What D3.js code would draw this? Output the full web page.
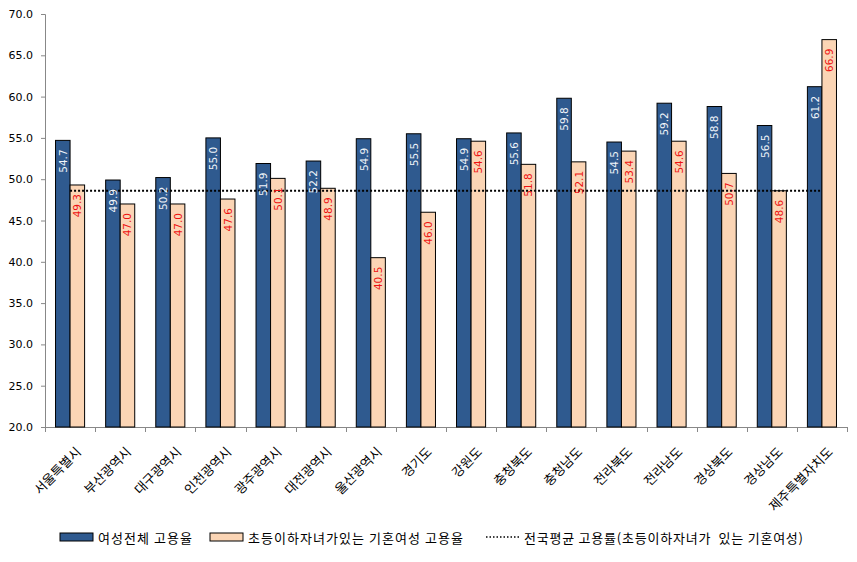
<!DOCTYPE html>
<html><head><meta charset="utf-8">
<script src="https://cdn.jsdelivr.net/npm/d3@7"></script>
<style>
body{margin:0;background:#fff;}
text{font-family:"DejaVu Sans",sans-serif;}
.kr{font-family:"Noto Sans CJK KR","Malgun Gothic",sans-serif;}
</style></head>
<body><svg id="c" width="857" height="562"></svg>
<script>
const categories = ["서울특별시","부산광역시","대구광역시","인천광역시","광주광역시","대전광역시","울산광역시","경기도","강원도","충청북도","충청남도","전라북도","전라남도","경상북도","경상남도","제주특별자치도"];
const totalRate = [54.7,49.9,50.2,55.0,51.9,52.2,54.9,55.5,54.9,55.6,59.8,54.5,59.2,58.8,56.5,61.2];
const marriedRate = [49.3,47.0,47.0,47.6,50.1,48.9,40.5,46.0,54.6,51.8,52.1,53.4,54.6,50.7,48.6,66.9];
const nationalAvg = 48.6;
const yTicks = [20,25,30,35,40,45,50,55,60,65,70];
const seriesNames = ["여성전체 고용율","초등이하자녀가있는 기혼여성 고용율","전국평균 고용률(초등이하자녀가  있는 기혼여성)"];

const svg = d3.select("#c");
const x0 = 45, x1 = 847, yTop = 14, yBot = 427;

const x = d3.scaleBand().domain(categories).range([x0, x1]).paddingInner(0).paddingOuter(0);
const y = d3.scaleLinear().domain([20,70]).range([yBot, yTop]);
const bw = x.bandwidth()*0.29;
const blue = "#2F5A8F", peach = "#FBD5B5";

// y axis
const yAxis = d3.axisLeft(y).tickValues(yTicks).tickFormat(d3.format(".1f")).tickSize(4).tickPadding(8);
const gy = svg.append("g").attr("transform",`translate(${x0},0)`).call(yAxis);
gy.select(".domain").attr("stroke","#888");
gy.selectAll(".tick line").attr("stroke","#888");
gy.selectAll(".tick text").attr("font-size","11px").attr("fill","#000");

// x axis line and ticks at band edges
svg.append("line").attr("x1",x0).attr("x2",x1).attr("y1",yBot+0.5).attr("y2",yBot+0.5).attr("stroke","#888");
const edges = categories.map(c=>x(c)).concat([x1]);
svg.selectAll(".xt").data(edges).enter().append("line")
  .attr("x1",d=>Math.round(d)+0.5).attr("x2",d=>Math.round(d)+0.5)
  .attr("y1",yBot).attr("y2",yBot+5).attr("stroke","#888");

// bars
const cx = c => x(c) + x.bandwidth()/2;
svg.selectAll(".b1").data(categories).enter().append("rect")
  .attr("x",(c)=>cx(c)-bw).attr("width",bw)
  .attr("y",(c,i)=>y(totalRate[i])).attr("height",(c,i)=>yBot-y(totalRate[i]))
  .attr("fill",blue).attr("stroke","#000").attr("stroke-width",1);
svg.selectAll(".b2").data(categories).enter().append("rect")
  .attr("x",(c)=>cx(c)).attr("width",bw)
  .attr("y",(c,i)=>y(marriedRate[i])).attr("height",(c,i)=>yBot-y(marriedRate[i]))
  .attr("fill",peach).attr("stroke","#000").attr("stroke-width",1);

// average line (category centers)
svg.append("line").attr("x1",cx(categories[0])).attr("x2",cx(categories[categories.length-1]))
  .attr("y1",y(nationalAvg)).attr("y2",y(nationalAvg))
  .attr("stroke","#000").attr("stroke-width",2).attr("stroke-dasharray","2,2");

// value labels
categories.forEach((c,i)=>{
  const bx = cx(c)-bw/2, by = y(totalRate[i])+9;
  svg.append("text").attr("transform",`translate(${bx},${by}) rotate(-90)`)
    .attr("text-anchor","end").attr("dominant-baseline","central")
    .attr("font-size","10.5px").attr("fill","#f2f5fa").text(totalRate[i].toFixed(1));
  const px = cx(c)+bw/2, py = y(marriedRate[i])+9;
  svg.append("text").attr("transform",`translate(${px},${py}) rotate(-90)`)
    .attr("text-anchor","end").attr("dominant-baseline","central")
    .attr("font-size","10.5px").attr("fill","#ee1111").text(marriedRate[i].toFixed(1));
});

// x labels
categories.forEach(c=>{
  svg.append("text").attr("class","kr")
    .attr("transform",`translate(${cx(c)+8},${yBot+22}) rotate(-45)`)
    .attr("text-anchor","end").attr("dominant-baseline","central")
    .attr("font-size","13px").attr("fill","#000").text(c);
});

// legend
const ly = 537;
svg.append("rect").attr("x",60).attr("y",ly-4).attr("width",33).attr("height",8).attr("fill",blue).attr("stroke","#000");
svg.append("text").attr("class","kr").attr("x",98).attr("y",ly).attr("dominant-baseline","central").attr("font-size","13px")
  .attr("textLength",94).attr("lengthAdjust","spacing").text(seriesNames[0]);
svg.append("rect").attr("x",210).attr("y",ly-4).attr("width",33).attr("height",8).attr("fill",peach).attr("stroke","#000");
svg.append("text").attr("class","kr").attr("x",248).attr("y",ly).attr("dominant-baseline","central").attr("font-size","13px")
  .attr("textLength",215).attr("lengthAdjust","spacing").text(seriesNames[1]);
svg.append("line").attr("x1",486).attr("x2",521).attr("y1",ly).attr("y2",ly).attr("stroke","#000").attr("stroke-width",1.5).attr("stroke-dasharray","1.5,2");
svg.append("text").attr("class","kr").attr("x",524).attr("y",ly).attr("dominant-baseline","central").attr("font-size","13px")
  .style("white-space","pre").attr("textLength",279).attr("lengthAdjust","spacing").text(seriesNames[2]);
</script></body></html>
